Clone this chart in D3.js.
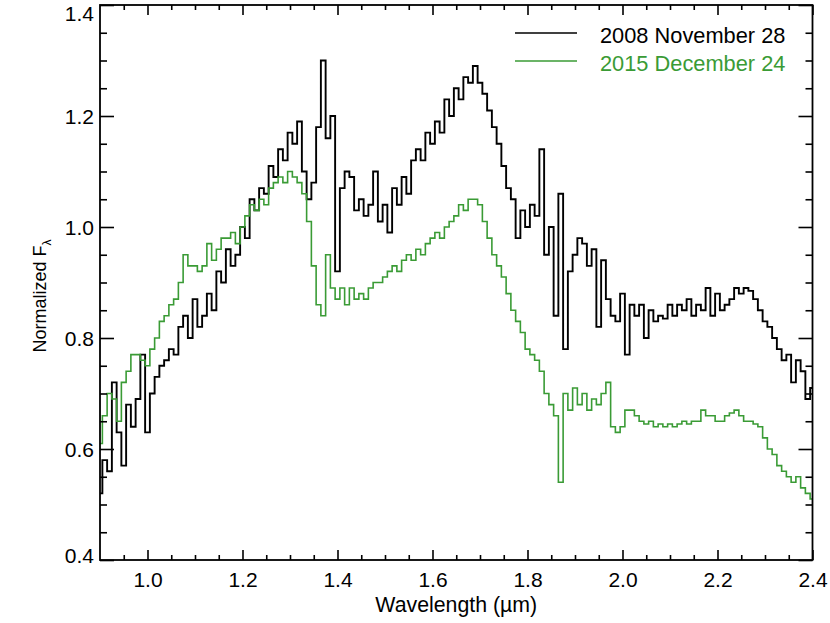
<!DOCTYPE html>
<html>
<head>
<meta charset="utf-8">
<script src="https://cdn.jsdelivr.net/npm/d3@7"></script>
<style>
  html, body { margin: 0; padding: 0; background: #fff; }
  svg { display: block; font-family: 'Liberation Sans', Arial, Helvetica, sans-serif; }
</style>
</head>
<body>
<svg id="chart" width="830" height="623"></svg>
<script>
// wavelength grid (µm), shared by both spectra
const wavelengths = [
  0.90,0.91,0.92,0.93,0.94,0.95,0.96,0.97,0.98,0.99,
  1.00,1.01,1.02,1.03,1.04,1.05,1.06,1.07,1.08,1.09,
  1.10,1.11,1.12,1.13,1.14,1.15,1.16,1.17,1.18,1.19,
  1.20,1.21,1.22,1.23,1.24,1.25,1.26,1.27,1.28,1.29,
  1.30,1.31,1.32,1.33,1.34,1.35,1.36,1.37,1.38,1.39,
  1.40,1.41,1.42,1.43,1.44,1.45,1.46,1.47,1.48,1.49,
  1.50,1.51,1.52,1.53,1.54,1.55,1.56,1.57,1.58,1.59,
  1.60,1.61,1.62,1.63,1.64,1.65,1.66,1.67,1.68,1.69,
  1.70,1.71,1.72,1.73,1.74,1.75,1.76,1.77,1.78,1.79,
  1.80,1.81,1.82,1.83,1.84,1.85,1.86,1.87,1.88,1.89,
  1.90,1.91,1.92,1.93,1.94,1.95,1.96,1.97,1.98,1.99,
  2.00,2.01,2.02,2.03,2.04,2.05,2.06,2.07,2.08,2.09,
  2.10,2.11,2.12,2.13,2.14,2.15,2.16,2.17,2.18,2.19,
  2.20,2.21,2.22,2.23,2.24,2.25,2.26,2.27,2.28,2.29,
  2.30,2.31,2.32,2.33,2.34,2.35,2.36,2.37,2.38,2.39,
  2.40
];

// 2008 November 28 (black)
const flux2008 = [
  0.52,0.58,0.56,0.72,0.63,0.57,0.68,0.64,0.69,0.77,
  0.63,0.70,0.73,0.75,0.76,0.78,0.77,0.82,0.84,0.80,
  0.87,0.82,0.84,0.88,0.85,0.92,0.90,0.96,0.93,0.95,
  1.00,0.98,1.05,1.03,1.07,1.06,1.11,1.09,1.14,1.12,
  1.17,1.15,1.19,1.10,1.05,1.08,1.18,1.30,1.16,1.20,
  0.92,1.07,1.10,1.09,1.03,1.05,1.02,1.04,1.10,1.01,
  1.04,0.99,1.07,1.04,1.09,1.06,1.12,1.14,1.12,1.17,
  1.15,1.19,1.17,1.23,1.20,1.25,1.23,1.27,1.26,1.29,
  1.26,1.24,1.21,1.18,1.15,1.11,1.07,1.05,0.98,1.03,
  1.00,1.04,1.02,1.14,0.95,1.00,0.84,1.06,0.78,0.92,
  0.95,0.98,0.97,0.93,0.96,0.82,0.94,0.87,0.84,0.83,
  0.88,0.77,0.86,0.84,0.86,0.80,0.85,0.83,0.84,0.835,
  0.86,0.84,0.86,0.85,0.87,0.84,0.86,0.85,0.89,0.84,
  0.88,0.85,0.86,0.87,0.89,0.88,0.89,0.885,0.87,0.85,
  0.83,0.82,0.80,0.78,0.76,0.77,0.72,0.76,0.74,0.69,
  0.71
];

// 2015 December 24 (green)
const flux2015 = [
  0.61,0.66,0.70,0.69,0.65,0.72,0.74,0.77,0.77,0.76,
  0.75,0.78,0.80,0.83,0.84,0.86,0.87,0.90,0.95,0.93,
  0.93,0.92,0.93,0.97,0.94,0.96,0.98,0.98,0.99,0.97,
  1.00,1.02,1.04,1.03,1.05,1.04,1.07,1.08,1.09,1.08,
  1.10,1.09,1.08,1.06,1.01,0.93,0.86,0.84,0.95,0.89,
  0.87,0.89,0.86,0.89,0.87,0.88,0.87,0.89,0.90,0.90,
  0.91,0.92,0.93,0.92,0.94,0.95,0.94,0.96,0.95,0.97,
  0.98,0.99,0.98,1.00,1.01,1.02,1.04,1.03,1.05,1.05,
  1.04,1.01,0.98,0.95,0.93,0.91,0.88,0.85,0.83,0.81,
  0.78,0.77,0.76,0.74,0.70,0.68,0.66,0.54,0.70,0.67,
  0.71,0.68,0.70,0.67,0.69,0.68,0.70,0.72,0.64,0.63,
  0.64,0.67,0.67,0.66,0.65,0.645,0.65,0.64,0.645,0.64,
  0.645,0.64,0.645,0.65,0.645,0.65,0.65,0.67,0.66,0.66,
  0.65,0.65,0.66,0.665,0.67,0.66,0.65,0.65,0.645,0.64,
  0.62,0.60,0.59,0.57,0.56,0.55,0.54,0.55,0.53,0.52,
  0.51
];

const seriesNames = ['2008 November 28', '2015 December 24'];
const seriesColors = ['#000000', '#3a9b35'];

const xMajorTicks = [1.0, 1.2, 1.4, 1.6, 1.8, 2.0, 2.2, 2.4];
const xMinorTicks = [0.95, 1.05, 1.1, 1.15, 1.25, 1.3, 1.35, 1.45, 1.5, 1.55,
                     1.65, 1.7, 1.75, 1.85, 1.9, 1.95, 2.05, 2.1, 2.15, 2.25, 2.3, 2.35];
const yMajorTicks = [0.4, 0.6, 0.8, 1.0, 1.2, 1.4];
const yMinorTicks = [0.45, 0.5, 0.55, 0.65, 0.7, 0.75, 0.85, 0.9, 0.95,
                     1.05, 1.1, 1.15, 1.25, 1.3, 1.35];

const svg = d3.select('#chart');
const L = 100, R = 812.5, T = 5, B = 560;
const W = R - L, H = B - T;

const x = d3.scaleLinear().domain([0.9, 2.4]).range([L, R]);
const y = d3.scaleLinear().domain([0.4, 1.4]).range([B, T]);

svg.append('defs').append('clipPath').attr('id', 'plot-clip')
  .append('rect').attr('x', L).attr('y', T).attr('width', W).attr('height', H);

// spectra
const line = d3.line()
  .x(d => x(d[0]))
  .y(d => y(d[1]))
  .curve(d3.curveStep);

const plot = svg.append('g').attr('clip-path', 'url(#plot-clip)');
[flux2008, flux2015].forEach((flux, i) => {
  plot.append('path')
    .datum(wavelengths.map((w, j) => [w, flux[j]]))
    .attr('fill', 'none')
    .attr('stroke', seriesColors[i])
    .attr('stroke-width', i === 0 ? 1.9 : 1.6)
    .attr('stroke-linejoin', 'miter')
    .attr('d', line);
});

// axes (ticks point inward)
function styleAxis(g) {
  g.select('.domain').remove();
  g.selectAll('line').attr('stroke', '#000').attr('stroke-width', 1.6);
  g.selectAll('text')
    .attr('fill', '#000')
    .attr('font-size', 21)
    .attr('font-family', "'Liberation Sans', Arial, Helvetica, sans-serif");
}
const fmt = d3.format('.1f');

svg.append('g').attr('transform', `translate(0,${B})`)
  .call(d3.axisBottom(x).tickValues(xMajorTicks).tickSize(-10).tickPadding(12).tickFormat(fmt))
  .call(styleAxis);
svg.append('g').attr('transform', `translate(0,${B})`)
  .call(d3.axisBottom(x).tickValues(xMinorTicks).tickSize(-5).tickFormat(''))
  .call(styleAxis);
svg.append('g').attr('transform', `translate(0,${T})`)
  .call(d3.axisTop(x).tickValues(xMajorTicks).tickSize(-10).tickFormat(''))
  .call(styleAxis);
svg.append('g').attr('transform', `translate(0,${T})`)
  .call(d3.axisTop(x).tickValues(xMinorTicks).tickSize(-5).tickFormat(''))
  .call(styleAxis);

const yLeft = svg.append('g').attr('transform', `translate(${L},0)`)
  .call(d3.axisLeft(y).tickValues(yMajorTicks).tickSize(-14).tickPadding(6).tickFormat(fmt))
  .call(styleAxis);
yLeft.selectAll('.tick text')
  .attr('dy', d => d === 1.4 ? '0.75em' : d === 0.4 ? '0.12em' : '0.35em');
svg.append('g').attr('transform', `translate(${L},0)`)
  .call(d3.axisLeft(y).tickValues(yMinorTicks).tickSize(-7).tickFormat(''))
  .call(styleAxis);
svg.append('g').attr('transform', `translate(${R},0)`)
  .call(d3.axisRight(y).tickValues(yMajorTicks).tickSize(-14).tickFormat(''))
  .call(styleAxis);
svg.append('g').attr('transform', `translate(${R},0)`)
  .call(d3.axisRight(y).tickValues(yMinorTicks).tickSize(-7).tickFormat(''))
  .call(styleAxis);

// frame
svg.append('rect')
  .attr('x', L).attr('y', T).attr('width', W).attr('height', H)
  .attr('fill', 'none').attr('stroke', '#000').attr('stroke-width', 1.8);

// axis titles
svg.append('text')
  .attr('x', (L + R) / 2).attr('y', 612)
  .attr('text-anchor', 'middle').attr('font-size', 21.3)
  .text('Wavelength (\u00b5m)');

const yTitle = svg.append('text')
  .attr('transform', 'translate(46,296) rotate(-90)')
  .attr('text-anchor', 'middle').attr('font-size', 18);
yTitle.append('tspan').text('Normalized F');
yTitle.append('tspan').attr('font-size', 12).attr('dy', 5).text('\u03bb');

// legend
const legend = svg.append('g');
seriesNames.forEach((name, i) => {
  const ly = 33 + i * 28;
  legend.append('line')
    .attr('x1', 515).attr('x2', 577).attr('y1', ly).attr('y2', ly)
    .attr('stroke', seriesColors[i]).attr('stroke-width', 1.6);
  legend.append('text')
    .attr('x', 600).attr('y', ly + 10)
    .attr('font-size', 21.8)
    .attr('fill', seriesColors[i])
    .text(name);
});
</script>
</body>
</html>
